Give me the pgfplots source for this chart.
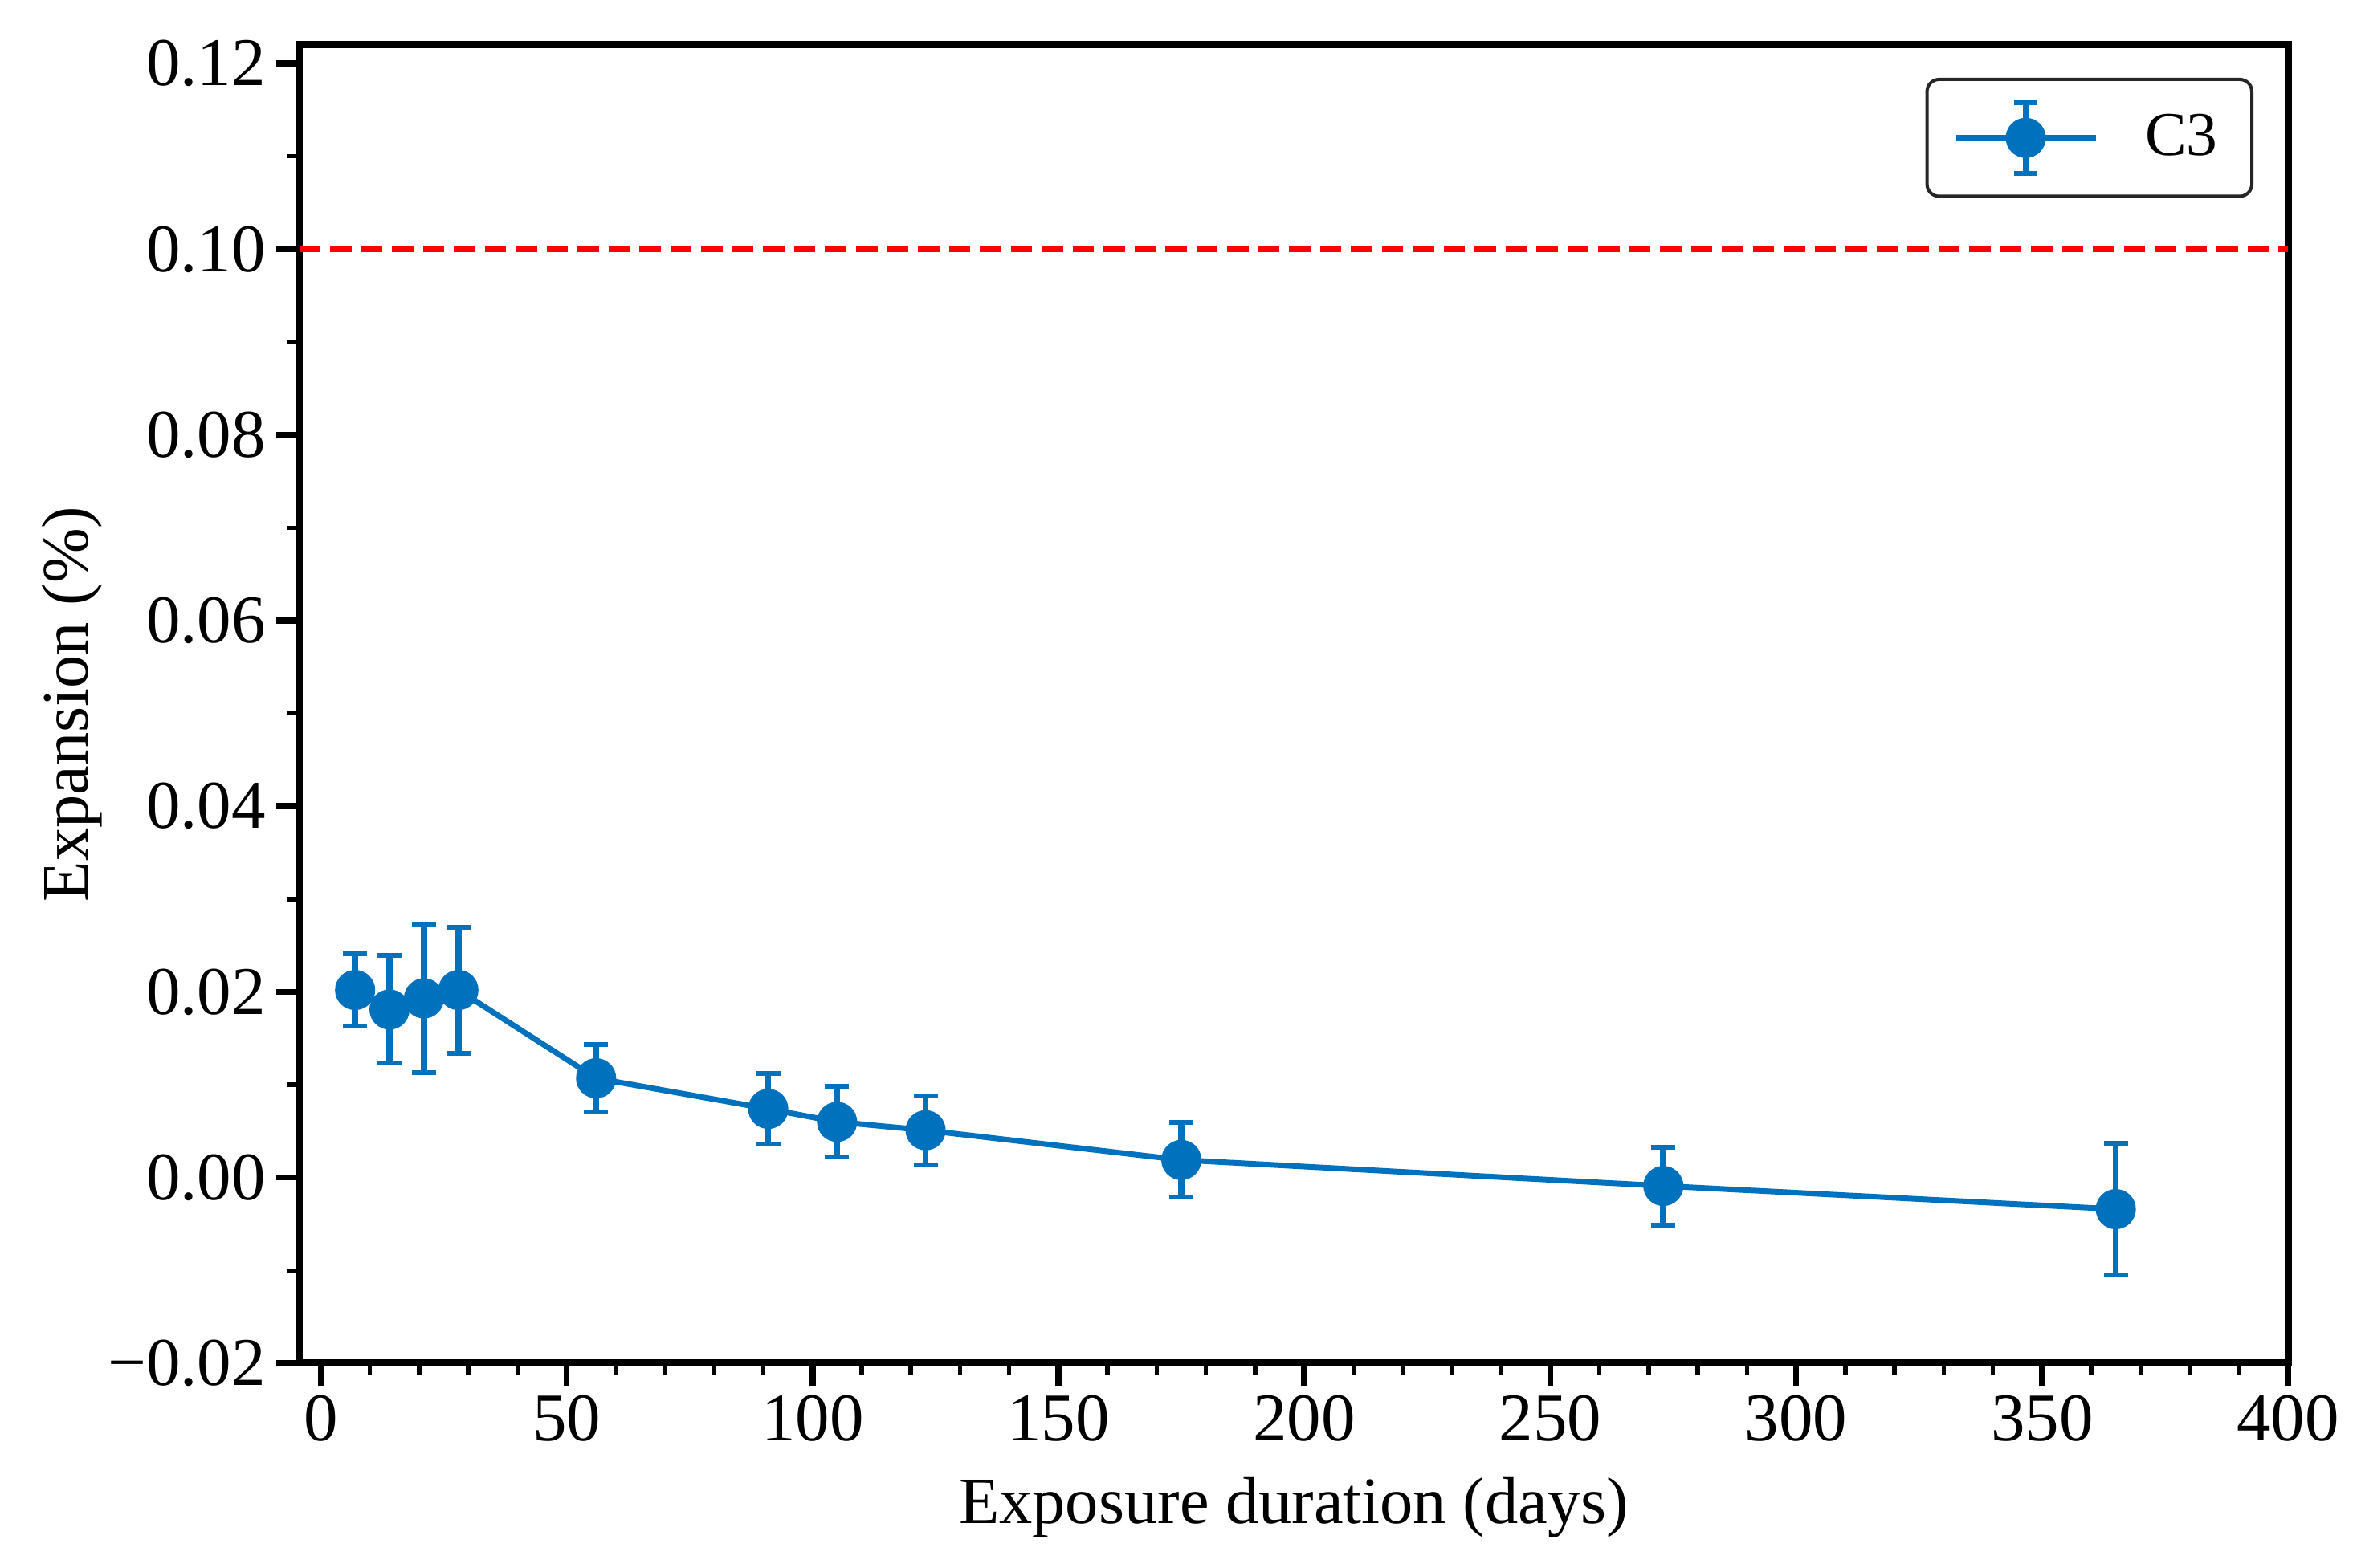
\documentclass[border=0pt]{standalone}
\usepackage{fontspec}
\setmainfont{Liberation Serif}
\usepackage{pgfplots}
\pgfplotsset{compat=1.18}
\definecolor{cblue}{RGB}{0,114,189}
\pgfplotstableread{
x y e
7 0.0202 0.0039
14 0.0181 0.0058
21 0.0193 0.0080
28 0.0202 0.0068
56 0.0107 0.0036
91 0.0074 0.0038
105 0.0060 0.0038
123 0.0051 0.0037
175 0.0019 0.0040
273 -0.0009 0.0042
365 -0.0034 0.0071
}\datatable
\begin{document}
\begin{tikzpicture}
\useasboundingbox (-74.6pt,-51pt) rectangle (512.4pt,339.6pt);
\begin{axis}[
 at={(0,0)}, anchor=south west, scale only axis,
 width=495.2pt, height=328.4pt,
 xmin=-4.3, xmax=400, ymin=-0.02, ymax=0.122,
 xtick={0,50,...,400},
 ytick={-0.02,0,0.02,0.04,0.06,0.08,0.1,0.12},
 yticklabels={−0.02,0.00,0.02,0.04,0.06,0.08,0.10,0.12},
 minor x tick num=4, minor y tick num=1,
 tick align=outside, xtick pos=bottom, ytick pos=left,
 major tick length=5.7pt, minor tick length=3pt,
 major tick style={black, line width=1.5pt},
 minor tick style={black, line width=1.1pt},
 axis line style={line width=1.8pt},
 ticklabel style={font=\fontsize{17}{20}\selectfont},
 xticklabel style={inner sep=2pt},
 yticklabel style={inner sep=2.5pt},
 label style={font=\fontsize{16.5}{20}\selectfont},
 xlabel={Exposure duration (days)}, ylabel={Expansion (\%)},
 xlabel style={at={(axis description cs:0.5,-0.1218)}, anchor=base},
 ylabel style={at={(axis description cs:-0.1066,0.5)}, anchor=base},
 /pgf/number format/assume math mode=true,
 legend style={at={(1,1)}, anchor=north east, xshift=-8.6pt, yshift=-8.2pt,
   draw=black!85, line width=0.8pt, rounded corners=3pt,
   inner xsep=6.5pt, inner ysep=5pt, font=\fontsize{15.5}{18}\selectfont},
]
\addplot[red, line width=1.4pt, dash pattern=on 5.3pt off 2.4pt, forget plot]
 coordinates {(-4.3,0.1) (400,0.1)};
\addplot[cblue, line width=1.4pt, mark=*, mark size=4.3pt,
 mark options={solid, fill=cblue, draw=cblue},
 error bars/.cd, y dir=both, y explicit,
 error bar style={line width=1.5pt, cblue},
 error mark options={cblue, line width=1.2pt, mark size=3pt, rotate=90},
 /pgfplots/legend image code/.code={
  \draw[cblue, line width=1.4pt] (0pt,0pt) -- (34.8pt,0pt);
  \draw[cblue, line width=1.5pt] (17.4pt,-8.8pt) -- (17.4pt,8.8pt);
  \draw[cblue, line width=1.2pt] (14.5pt,8.8pt) -- (20.3pt,8.8pt) (14.5pt,-8.8pt) -- (20.3pt,-8.8pt);
  \fill[cblue] (17.4pt,0pt) circle (4.3pt);
 }]
 table[x=x, y=y, y error=e] {\datatable};
\addlegendentry{\hspace{9.6pt}C3}
\end{axis}
\end{tikzpicture}
\end{document}
